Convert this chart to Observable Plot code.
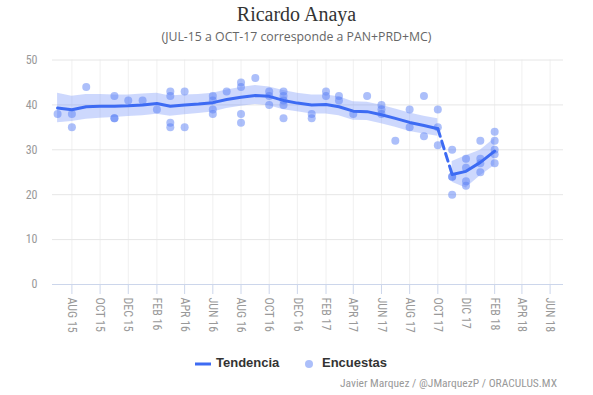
<!DOCTYPE html>
<html>
<head>
<meta charset="utf-8">
<script src="https://cdn.jsdelivr.net/npm/d3@7"></script>
<script src="https://cdn.jsdelivr.net/npm/@observablehq/plot@0.6"></script>
<style>
  html, body { margin: 0; padding: 0; background: #fff; }
  #wrap { position: relative; width: 593px; height: 395px; overflow: hidden; }
  #title { position: absolute; top: 0; left: 0; width: 593px; text-align: center;
    font-family: "Liberation Serif", "DejaVu Serif", serif; font-size: 20px; color: #333; line-height: 24px; top: 2px; }
  #subtitle { position: absolute; left: 0; width: 593px; text-align: center; top: 28px;
    font-family: "Open Sans", "Liberation Sans", sans-serif; font-size: 12.3px; color: #666; line-height: 18px; }
  #chart { position: absolute; left: 0; top: 0; }
  #legend { position: absolute; top: 354px; left: 0; width: 593px; height: 18px;
    font-family: "Liberation Sans", Arial, sans-serif; font-size: 13px; font-weight: bold; color: #333; }
  #legend .item { position: absolute; top: 0; line-height: 18px; white-space: nowrap; }
  #legend svg { vertical-align: middle; }
  #caption { position: absolute; top: 375px; right: 36px; font-family: "Liberation Sans Narrow", "Roboto Condensed", "Arial Narrow", sans-serif;
    font-size: 11.5px; color: #999; line-height: 16px; white-space: nowrap; }
</style>
</head>
<body>
<div id="wrap">
  <div id="chart"></div>
  <div id="title">Ricardo Anaya</div>
  <div id="subtitle">(JUL-15 a OCT-17 corresponde a PAN+PRD+MC)</div>
  <div id="legend"></div>
  <div id="caption">Javier Marquez / @JMarquezP / ORACULUS.MX</div>
</div>
<script>
// ---- Data ----
// Trend (PAN+PRD+MC period), monthly
const trendMonthsA = ["2015-07","2015-08","2015-09","2015-10","2015-11","2015-12","2016-01","2016-02","2016-03","2016-04","2016-05","2016-06","2016-07","2016-08","2016-09","2016-10","2016-11","2016-12","2017-01","2017-02","2017-03","2017-04","2017-05","2017-06","2017-07","2017-08","2017-09","2017-10"];
const trendValuesA = [39.3,38.9,39.6,39.7,39.7,39.8,40.0,40.3,39.7,40.0,40.2,40.5,41.2,41.7,42.1,41.9,41.0,40.4,40.0,40.1,39.6,38.6,38.5,37.8,37.0,36.1,35.4,34.7];
const trendLowA    = [36.0,36.3,36.8,37.0,37.2,37.4,37.6,37.9,37.5,37.8,38.1,38.4,39.2,39.7,40.1,39.8,38.9,38.5,38.0,38.0,37.6,36.6,36.5,35.8,35.0,34.1,33.5,33.0];
const trendHighA   = [42.6,41.9,42.3,42.3,42.2,42.2,42.4,42.6,42.0,42.2,42.3,42.6,43.3,43.9,44.3,44.0,43.2,42.6,42.2,42.2,41.8,40.7,40.6,39.9,39.1,38.2,37.5,36.9];
// Trend (after Oct-17)
const trendMonthsB = ["2017-11","2017-12","2018-01","2018-02"];
const trendValuesB = [24.5,25.2,27.2,29.7];
const trendLowB    = [22.8,21.5,24.2,26.5];
const trendHighB   = [27.4,28.7,29.9,32.5];
// Polls
const pollMonths = ["2015-07","2015-08","2015-08","2015-09","2015-11","2015-11","2015-11","2015-12","2016-01","2016-02",
  "2016-03","2016-03","2016-03","2016-03","2016-04","2016-04","2016-06","2016-06","2016-06","2016-06",
  "2016-07","2016-08","2016-08","2016-08","2016-08","2016-09","2016-10","2016-10","2016-10",
  "2016-11","2016-11","2016-11","2016-11","2016-11","2017-01","2017-01","2017-02","2017-02","2017-03","2017-03",
  "2017-04","2017-05","2017-06","2017-06","2017-06","2017-07","2017-08","2017-08","2017-09","2017-09",
  "2017-10","2017-10","2017-10","2017-11","2017-11","2017-11","2017-11","2017-12","2017-12","2017-12","2017-12",
  "2018-01","2018-01","2018-01","2018-01","2018-02","2018-02","2018-02","2018-02","2018-02"];
const pollValues = [38,38,35,44,42,37,37,41,41,39,
  43,42,36,35,43,35,42,41,39,38,
  43,45,44,38,36,46,43,42,40,
  43,42,41,40,37,38,37,43,42,42,41,
  38,42,40,39,38,32,39,35,42,33,
  39,35,31,30,24,24,20,28,26,23,22,
  32,28,27,25,34,32,30,29,27];
// Axis ticks
const xTickMonths = ["2015-08","2015-10","2015-12","2016-02","2016-04","2016-06","2016-08","2016-10","2016-12","2017-02","2017-04","2017-06","2017-08","2017-10","2017-12","2018-02","2018-04","2018-06"];
const xTickLabels = ["AUG 15","OCT 15","DEC 15","FEB 16","APR 16","JUN 16","AUG 16","OCT 16","DEC 16","FEB 17","APR 17","JUN 17","AUG 17","OCT 17","DIC 17","FEB 18","APR 18","JUN 18"];
const yTicks = [0,10,20,30,40,50];
const xDomain = ["2015-06-20","2018-06-30"];

// ---- Build ----
const pm = d3.utcParse("%Y-%m");
const pd = d3.utcParse("%Y-%m-%d");
const trendA = trendMonthsA.map((m,i)=>({date: pm(m), v: trendValuesA[i], lo: trendLowA[i], hi: trendHighA[i]}));
const trendB = trendMonthsB.map((m,i)=>({date: pm(m), v: trendValuesB[i], lo: trendLowB[i], hi: trendHighB[i]}));
const bridge = [trendA[trendA.length-1], trendB[0]];
const polls = pollMonths.map((m,i)=>({date: pm(m), v: pollValues[i]}));
const xTicks = xTickMonths.map(pm);
const labelMap = new Map(xTicks.map((d,i)=>[+d, xTickLabels[i]]));

const lineColor = "#3d6bf3";
const pointColor = "#5a7ff5";
const bandColor = "#6f8ff8";

const chart = Plot.plot({
  width: 593,
  height: 345,
  marginLeft: 52,
  marginRight: 30,
  marginTop: 59.5,
  marginBottom: 61,
  style: {fontFamily: "'Liberation Sans Narrow', 'Roboto Condensed', 'Arial Narrow', sans-serif", fontSize: "12px", color: "#999", background: "transparent"},
  x: {type: "utc", domain: xDomain.map(pd)},
  y: {domain: [0, 50]},
  marks: [
    Plot.gridX(xTicks, {stroke: "#f0f0f0", strokeOpacity: 1}),
    Plot.gridY(yTicks.filter(t=>t>0), {stroke: "#e6e6e6", strokeOpacity: 1}),
    Plot.areaY(trendA, {x: "date", y1: "lo", y2: "hi", fill: bandColor, fillOpacity: 0.35}),
    Plot.areaY(trendB, {x: "date", y1: "lo", y2: "hi", fill: bandColor, fillOpacity: 0.35}),
    Plot.ruleY([0], {stroke: "#ccd6eb"}),
    Plot.dot(polls, {x: "date", y: "v", r: 4, fill: pointColor, fillOpacity: 0.5}),
    Plot.line(trendA, {x: "date", y: "v", stroke: lineColor, strokeWidth: 3}),
    Plot.line(trendB, {x: "date", y: "v", stroke: lineColor, strokeWidth: 3}),
    Plot.line(bridge, {x: "date", y: "v", stroke: lineColor, strokeWidth: 3, strokeDasharray: "8,5"}),
    Plot.axisY({ticks: yTicks, tickSize: 0, tickPadding: 15, label: null, fill: "#999"}),
    Plot.axisX({ticks: xTicks, tickFormat: d => labelMap.get(+d), tickRotate: 90, tickSize: 10, tickPadding: 3, stroke: "#ccd6eb", fill: "#999", label: null})
  ]
});
document.getElementById("chart").appendChild(chart);

// Legend
const legend = document.getElementById("legend");
legend.innerHTML =
  `<span class="item" style="left:195px"><svg width="16" height="10"><line x1="0" x2="16" y1="5" y2="5" stroke="${lineColor}" stroke-width="3"/></svg><span style="margin-left:5px">Tendencia</span></span>` +
  `<span class="item" style="left:304px"><svg width="10" height="10"><circle cx="5" cy="5" r="4" fill="${pointColor}" fill-opacity="0.5"/></svg><span style="margin-left:8px">Encuestas</span></span>`;
</script>
</body>
</html>
